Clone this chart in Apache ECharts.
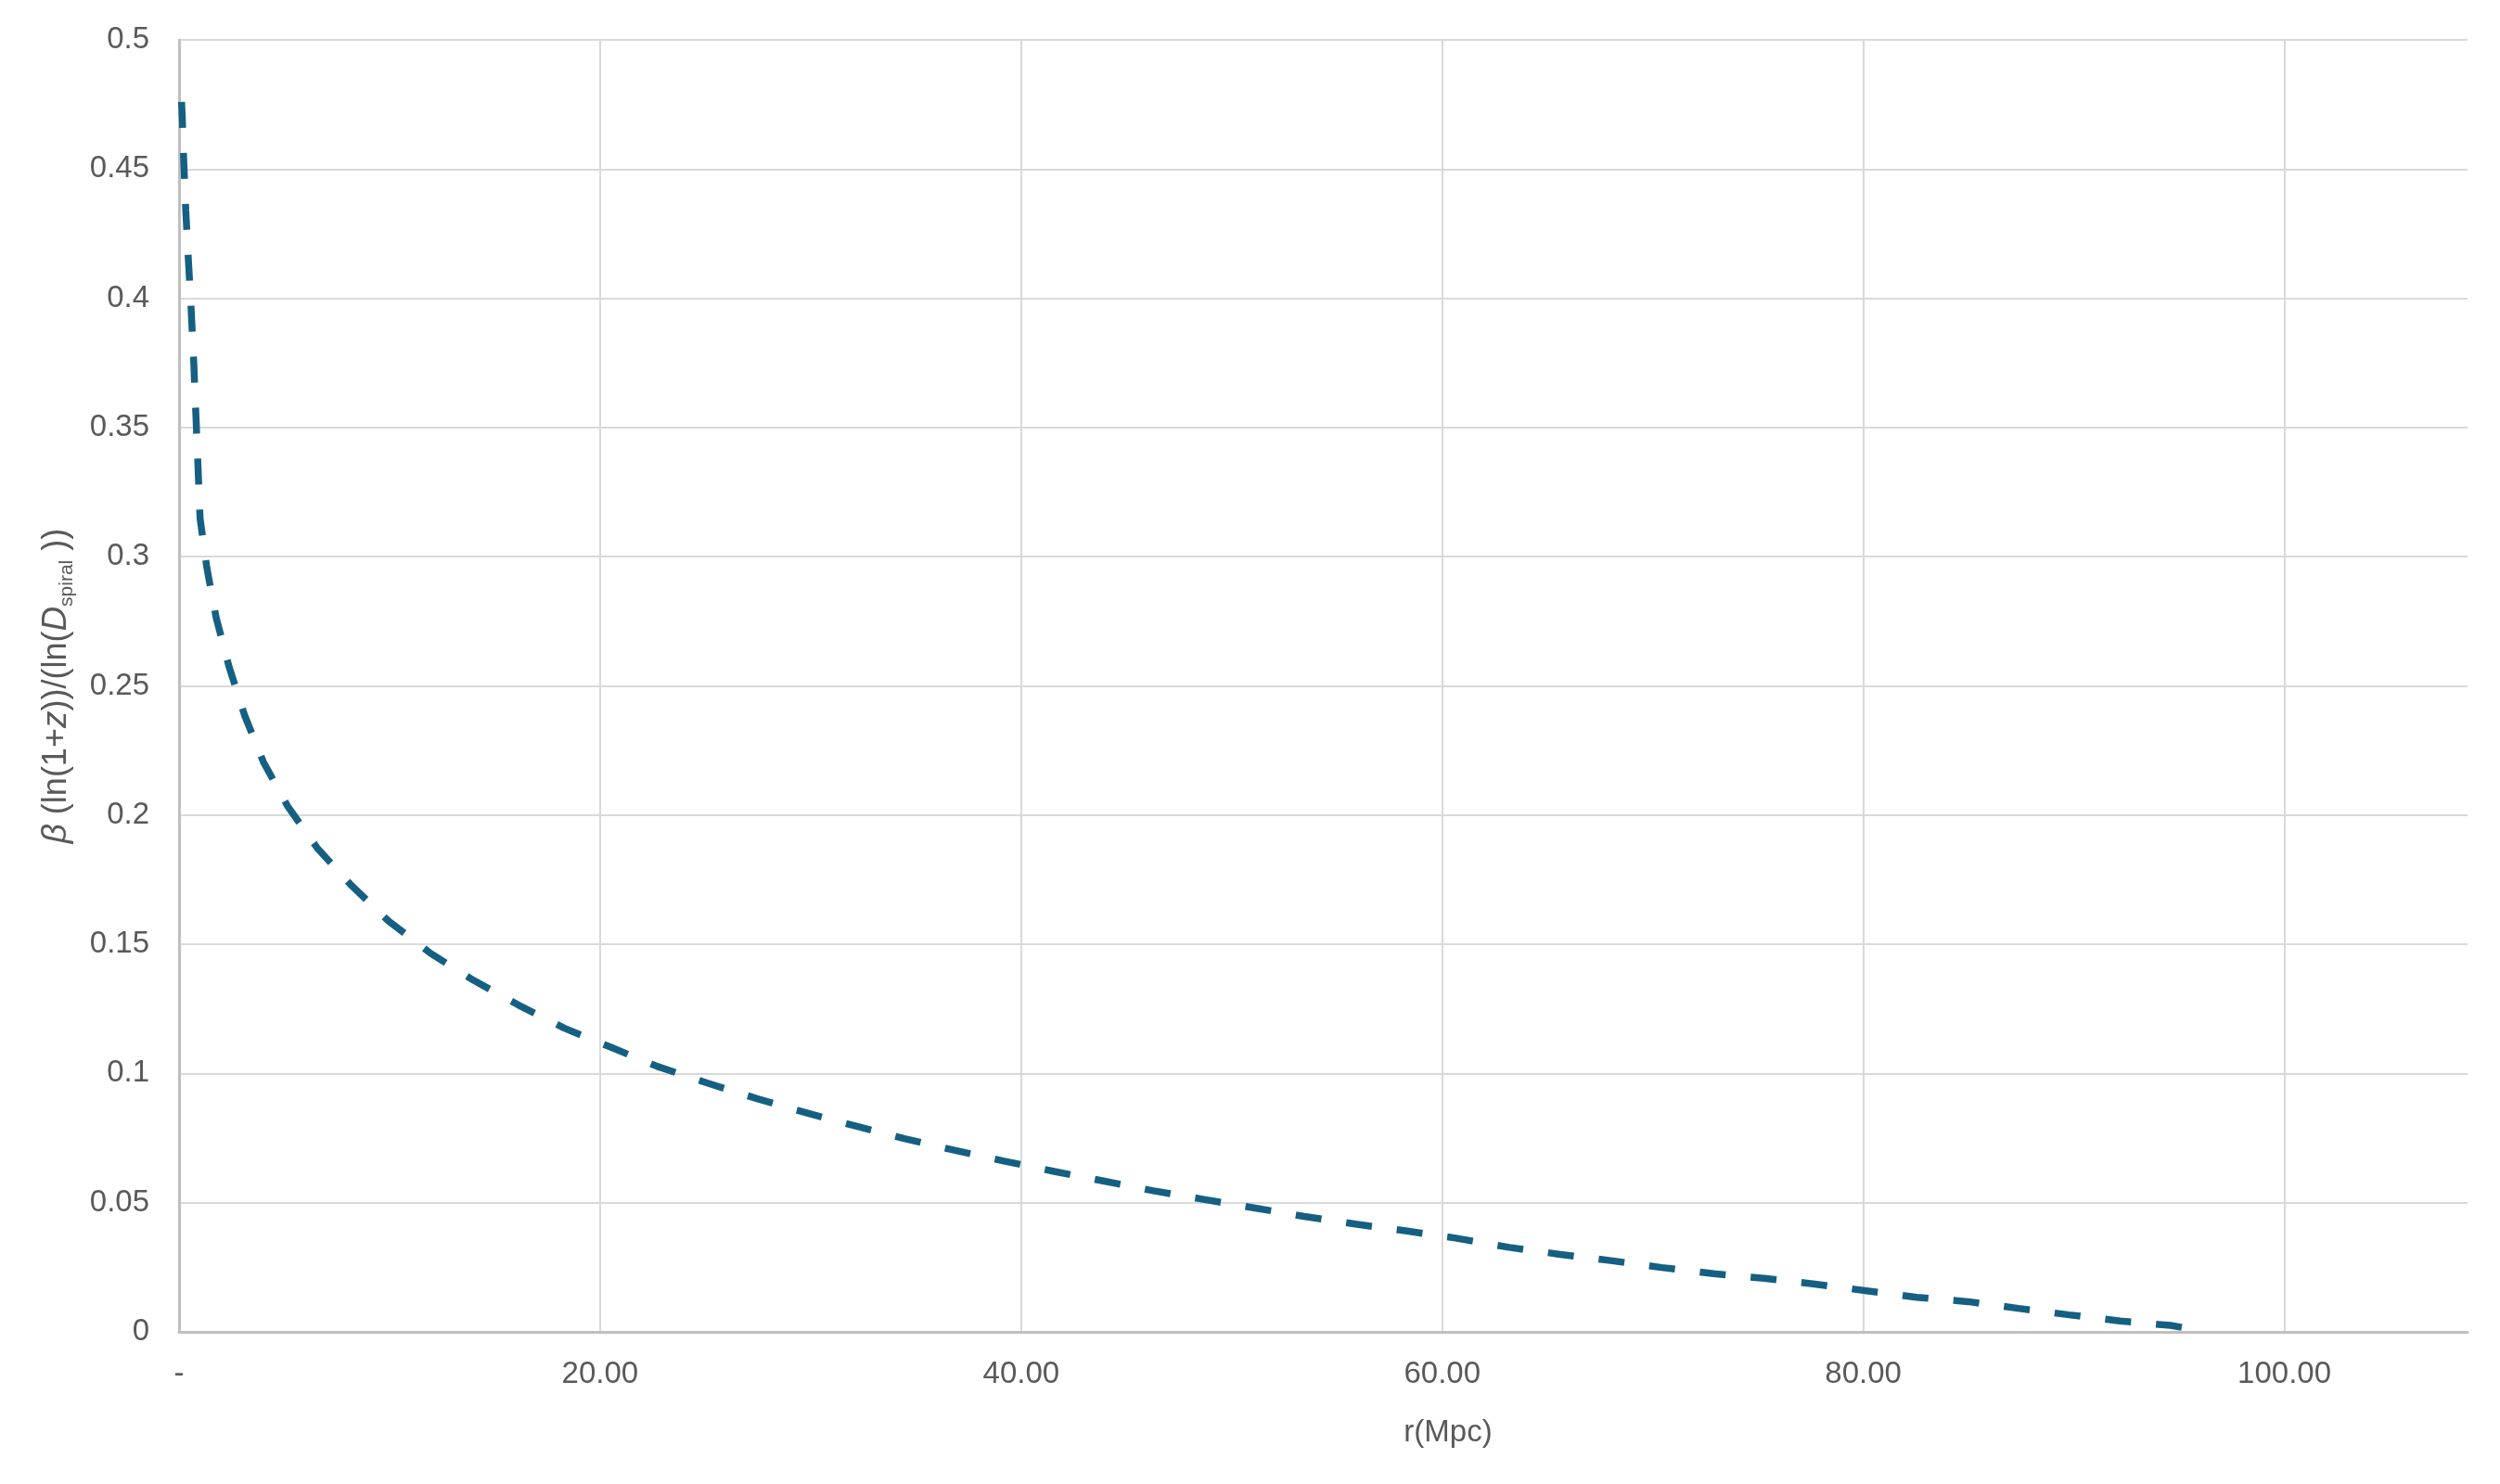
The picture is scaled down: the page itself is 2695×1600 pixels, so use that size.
<!DOCTYPE html>
<html>
<head>
<meta charset="utf-8">
<script src="https://cdn.jsdelivr.net/npm/echarts@6/dist/echarts.min.js"></script>
<style>
html,body{margin:0;padding:0;background:#fff;}
#chart{width:2695px;height:1600px;}
</style>
</head>
<body>
<div id="chart"></div>
<script>
// r (Mpc)
const rValues = [0.12, 0.15, 0.22, 0.32, 0.45, 0.58, 0.70, 0.80, 0.90, 1.00, 1.32, 1.76, 2.38, 3.11, 4.01, 5.17, 6.56, 8.15, 9.95, 11.95, 13.98, 16.12, 18.31, 20.56, 22.7, 25.1, 27.43, 29.73, 32.12, 34.5, 36.83, 39.19, 41.57, 43.9, 46.28, 48.67, 51.05, 53.44, 55.88, 58.26, 60.64, 63.18, 65.6, 68.0, 70.42, 72.9, 75.3, 77.7, 80.16, 82.54, 84.98, 87.36, 89.77, 92.2, 94.6, 95.3];
// beta (ln(1+z))/(ln(D_spiral))
const betaValues = [0.476, 0.471, 0.454, 0.434, 0.414, 0.395, 0.375, 0.355, 0.335, 0.3148, 0.2958, 0.2765, 0.2573, 0.2387, 0.2205, 0.2033, 0.1873, 0.1731, 0.159, 0.1465, 0.1361, 0.1265, 0.1175, 0.1100, 0.1028, 0.0963, 0.0903, 0.0849, 0.0797, 0.0747, 0.0703, 0.0661, 0.0621, 0.0584, 0.0546, 0.0513, 0.048, 0.0447, 0.0417, 0.0391, 0.0363, 0.0327, 0.030, 0.0276, 0.0249, 0.0225, 0.0207, 0.0185, 0.0159, 0.0134, 0.0117, 0.0091, 0.0066, 0.0042, 0.0025, 0.0015];
const xTickLabels = ['-', '20.00', '40.00', '60.00', '80.00', '100.00'];
const xTickValues = [0, 20, 40, 60, 80, 100];
const xTitle = 'r(Mpc)';

const seriesData = rValues.map((r, i) => [r, betaValues[i]]);
const textColor = '#595959';
const font = '"Liberation Sans", Arial, sans-serif';

const chart = echarts.init(document.getElementById('chart'));
chart.setOption({
  animation: false,
  backgroundColor: '#ffffff',
  title: {
    text: xTitle,
    left: 1556,
    top: 1523,
    textAlign: 'center',
    textStyle: { color: textColor, fontSize: 33, fontWeight: 'normal', fontFamily: font }
  },
  grid: { left: 193, right: 35, top: 43, bottom: 164, containLabel: false },
  xAxis: {
    type: 'value',
    min: 0,
    max: 108.7,
    interval: 20,
    axisLine: { show: true, lineStyle: { color: '#bfbfbf', width: 3 } },
    axisTick: { show: false },
    splitLine: { show: true, showMinLine: false, showMaxLine: false, lineStyle: { color: '#d9d9d9', width: 2 } },
    axisLabel: {
      color: textColor, fontSize: 33, fontFamily: font, margin: 29,
      showMaxLabel: false,
      formatter: function (v) {
        const idx = xTickValues.indexOf(Math.round(v * 1000) / 1000);
        return idx >= 0 ? xTickLabels[idx] : '';
      }
    }
  },
  yAxis: {
    type: 'value',
    min: 0,
    max: 0.5,
    interval: 0.05,
    axisLine: { show: true, lineStyle: { color: '#bfbfbf', width: 3 } },
    axisTick: { show: false },
    splitLine: { show: true, showMinLine: false, lineStyle: { color: '#d9d9d9', width: 2 } },
    axisLabel: {
      color: textColor, fontSize: 33, fontFamily: font, margin: 32,
      formatter: function (v) { return String(+v.toFixed(2)); }
    },
    name: '{it|β} (ln(1+{it|z}))/(ln({it|D}{sub|spiral} ))',
    nameLocation: 'middle',
    nameRotate: 90,
    nameGap: 110,
    nameTextStyle: {
      color: textColor, fontSize: 36, fontFamily: font, lineHeight: 44,
      rich: {
        it: { fontStyle: 'italic', fontSize: 37, color: textColor, fontFamily: font, lineHeight: 44 },
        sub: { fontSize: 21, color: textColor, fontFamily: font, verticalAlign: 'bottom', lineHeight: 24 }
      }
    }
  },
  series: [{
    type: 'line',
    data: seriesData,
    showSymbol: false,
    smooth: false,
    lineStyle: { color: '#156082', width: 7.5, type: [28, 27], cap: 'butt' },
    z: 5
  }]
});
</script>
</body>
</html>
